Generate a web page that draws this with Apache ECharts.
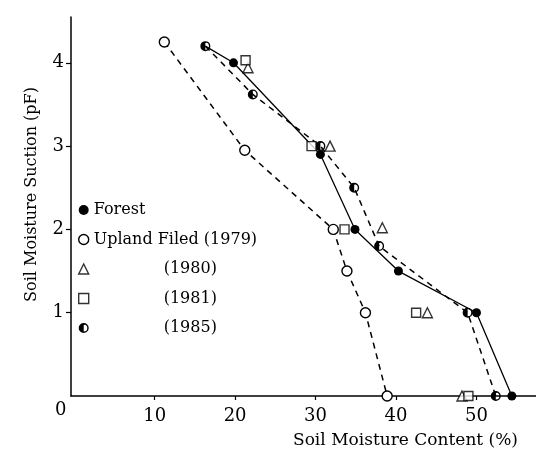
<!doctype html>
<html>
<head>
<meta charset="utf-8">
<title>Soil Moisture</title>
<script src="https://cdn.jsdelivr.net/npm/echarts@6/dist/echarts.min.js"></script>
<style>
  html, body { margin: 0; padding: 0; background: #fff; }
  #chart { width: 536px; height: 450px; }
</style>
</head>
<body>
<div id="chart"></div>
<script>
// [soil moisture content (%), pF]
var forest = [[16.3, 4.2], [19.8, 4.0], [30.6, 2.9], [34.9, 2.0], [40.3, 1.5], [50.0, 1.0], [54.4, 0]];
var upland1979 = [[11.2, 4.25], [21.2, 2.95], [32.2, 2.0], [33.9, 1.5], [36.2, 1.0], [38.9, 0]];
var upland1980 = [[21.6, 3.94], [31.8, 3.0], [38.3, 2.02], [43.9, 1.0], [48.2, 0]];
var upland1981 = [[21.3, 4.03], [29.5, 3.0], [33.6, 2.0], [42.5, 1.0], [49.0, 0]];
var upland1985 = [[16.3, 4.2], [22.2, 3.62], [30.6, 3.0], [34.8, 2.5], [37.9, 1.8], [48.9, 1.0], [52.4, 0]];
var xTicks = [10, 20, 30, 40, 50];
var yTicks = [1, 2, 3, 4];

var serif = '"DejaVu Serif", "Liberation Serif", serif';
var halfCircle = 'path://M10 0A10 10 0 0 0 10 20Z M10 0A10 10 0 0 1 10 20L10 17.2A7.2 7.2 0 0 0 10 2.8Z';
var hollow = { color: '#fff', borderColor: '#000', borderWidth: 1.4 };

var chart = echarts.init(document.getElementById('chart'));

// the forest line starts from the 1985 point, no own marker there
var forestData = forest.map(function (p, i) {
	return i === 0 ? { value: p, symbol: 'none' } : p;
});

chart.setOption({
	animation: false,
	backgroundColor: '#fff',
	textStyle: { fontFamily: serif, color: '#000' },
	grid: { left: 71, right: 0, top: 17, bottom: 54 },
	graphic: [{
		type: 'text',
		left: 55,
		top: 401,
		style: { text: '0', font: '18px ' + serif, fill: '#000' }
	}],
	legend: {
		orient: 'vertical',
		left: 73,
		top: 196,
		itemWidth: 10,
		itemHeight: 10,
		itemGap: 11.5,
		selectedMode: false,
		textStyle: {
			fontFamily: serif, fontSize: 16, color: '#000', lineHeight: 18,
			rich: { ind: { fontFamily: serif, fontSize: 16, color: '#000', lineHeight: 18, padding: [0, 0, 0, 70] } }
		},
		formatter: function (n) {
			return n.charAt(0) === '(' ? '{ind|' + n + '}' : n;
		},
		data: [
			{ name: 'Forest', icon: 'circle', itemStyle: { color: '#000' } },
			{ name: 'Upland Filed (1979)', icon: 'circle', itemStyle: hollow },
			{ name: '(1980)', icon: 'triangle', itemStyle: hollow },
			{ name: '(1981)', icon: 'rect', itemStyle: hollow },
			{ name: '(1985)', icon: halfCircle, itemStyle: { color: '#000' } }
		]
	},
	xAxis: {
		type: 'value',
		min: -0.4,
		max: 57.4,
		name: 'Soil Moisture Content (%)',
		nameLocation: 'end',
		nameGap: -18,
		nameTextStyle: { fontFamily: serif, fontSize: 17, color: '#000', align: 'right', verticalAlign: 'top', padding: [36, 0, 0, 0] },
		axisLine: { onZero: false, lineStyle: { color: '#000', width: 1.5 } },
		axisTick: { customValues: xTicks, length: 4, lineStyle: { color: '#000', width: 1.2 } },
		axisLabel: { customValues: xTicks, margin: 11, fontFamily: serif, fontSize: 18, color: '#000' },
		splitLine: { show: false }
	},
	yAxis: {
		type: 'value',
		min: 0,
		max: 4.55,
		name: 'Soil Moisture Suction (pF)',
		nameLocation: 'middle',
		nameRotate: 90,
		nameGap: 31,
		nameTextStyle: { fontFamily: serif, fontSize: 16, color: '#000', padding: [0, 0, 0, 24] },
		axisLine: { onZero: false, lineStyle: { color: '#000', width: 1.5 } },
		axisTick: { customValues: yTicks, length: 5, lineStyle: { color: '#000', width: 1.2 } },
		axisLabel: { customValues: yTicks, margin: 7, fontFamily: serif, fontSize: 18, color: '#000' },
		splitLine: { show: false }
	},
	series: [{
		name: 'Forest',
		type: 'line',
		data: forestData,
		symbol: 'circle',
		symbolSize: 9,
		z: 3,
		itemStyle: { color: '#000' },
		lineStyle: { color: '#000', width: 1.3 }
	}, {
		name: 'Upland Filed (1979)',
		type: 'line',
		data: upland1979,
		symbol: 'circle',
		symbolSize: 10,
		z: 4,
		itemStyle: hollow,
		lineStyle: { color: '#000', width: 1.5, type: [6, 5] }
	}, {
		name: '(1980)',
		type: 'scatter',
		data: upland1980,
		symbol: 'triangle',
		symbolSize: 10,
		z: 5,
		itemStyle: hollow
	}, {
		name: '(1981)',
		type: 'scatter',
		data: upland1981,
		symbol: 'rect',
		symbolSize: 9,
		z: 5,
		itemStyle: hollow
	}, {
		name: '(1985)',
		type: 'line',
		data: upland1985,
		symbol: halfCircle,
		symbolSize: 10,
		z: 4,
		itemStyle: { color: '#000' },
		lineStyle: { color: '#000', width: 1.5, type: [6, 5] }
	}]
});
</script>
</body>
</html>
